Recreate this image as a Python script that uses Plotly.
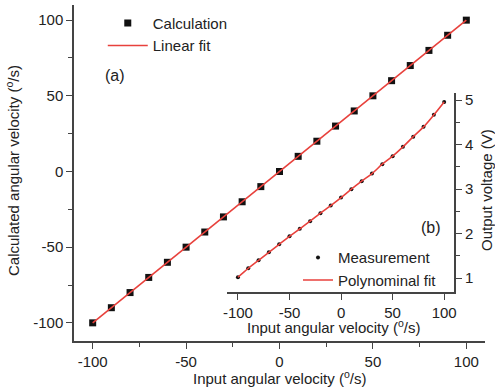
import plotly.graph_objects as go

# Main panel (a)
calc_x = [-100, -90, -80, -70, -60, -50, -40, -30, -20, -10, 0, 10, 20, 30, 40, 50, 60, 70, 80, 90, 100]
calc_y = [-100, -90, -80, -70, -60, -50, -40, -30, -20, -10, 0, 10, 20, 30, 40, 50, 60, 70, 80, 90, 100]

# Inset panel (b)
meas_x = [-100, -90, -80, -70, -60, -50, -40, -30, -20, -10, 0, 10, 20, 30, 40, 50, 60, 70, 80, 90, 100]
meas_v = [1.02, 1.22, 1.40, 1.58, 1.76, 1.94, 2.11, 2.28, 2.46, 2.63, 2.81, 3.00, 3.18, 3.35, 3.56, 3.74,
          3.95, 4.18, 4.40, 4.67, 4.96]

main_ticks = [-100, -50, 0, 50, 100]
main_ticktext = ["-100", "-50", "0", "50", "100"]
inset_xticks = [-100, -50, 0, 50, 100]
inset_xticktext = ["-100", "-50", "0", "50", "100"]
inset_yticks = [1, 2, 3, 4, 5]

RED = "#e8413c"
AX = "#444444"
FONT = "Arial, Liberation Sans, sans-serif"

fig = go.Figure()

fig.add_trace(go.Scatter(x=calc_x, y=calc_y, mode="markers", name="Calculation",
                         marker=dict(symbol="square", size=7, color="#111111"),
                         legend="legend"))
fig.add_trace(go.Scatter(x=calc_x, y=calc_y, mode="lines", name="Linear fit",
                         line=dict(color=RED, width=1.6), legend="legend"))

fig.add_trace(go.Scatter(x=meas_x, y=meas_v, mode="markers", name="Measurement",
                         marker=dict(symbol="circle", size=4, color="#111111"),
                         xaxis="x2", yaxis="y2", legend="legend2"))
fig.add_trace(go.Scatter(x=meas_x, y=meas_v, mode="lines", name="Polynominal fit",
                         line=dict(color=RED, width=1.6, shape="spline"),
                         xaxis="x2", yaxis="y2", legend="legend2"))

axis_common = dict(showgrid=False, zeroline=False, showline=True, linecolor=AX, linewidth=1.5,
                   ticks="outside", ticklen=6, tickwidth=1.3, tickcolor=AX, automargin=False,
                   tickfont=dict(size=15, color="#222222", family=FONT))

fig.update_layout(
    width=495, height=389,
    margin=dict(l=74, r=10, t=5, b=48),
    paper_bgcolor="white", plot_bgcolor="rgba(0,0,0,0)",
    font=dict(family=FONT, size=15, color="#222222"),
    xaxis=dict(**axis_common, range=[-110, 110], tickvals=main_ticks, ticktext=main_ticktext,
               minor=dict(tickvals=[-75, -25, 25, 75], ticks="outside", ticklen=4, tickcolor=AX),
               domain=[0, 1]),
    yaxis=dict(**axis_common, range=[-112, 110], tickvals=main_ticks, ticktext=main_ticktext,
               minor=dict(tickvals=[-75, -25, 25, 75], ticks="outside", ticklen=4, tickcolor=AX),
               domain=[0, 1]),
    xaxis2=dict(**axis_common, range=[-110.7, 109.7], tickvals=inset_xticks, ticktext=inset_xticktext,
                anchor="y2", domain=[0.372, 0.925]),
    yaxis2=dict(**axis_common, range=[0.69, 5.16], tickvals=inset_yticks, anchor="x2", side="right",
                domain=[0.146, 0.738],
                minor=dict(tickvals=[1.5, 2.5, 3.5, 4.5], ticks="outside", ticklen=4, tickcolor=AX)),
    legend=dict(x=0.07, y=0.995, xanchor="left", yanchor="top", bgcolor="rgba(0,0,0,0)",
                font=dict(size=15), tracegroupgap=0, itemwidth=40),
    legend2=dict(x=0.545, y=0.297, xanchor="left", yanchor="top", bgcolor="rgba(0,0,0,0)",
                 font=dict(size=15), tracegroupgap=0, itemwidth=30),
    showlegend=True,
)

# Axis titles as annotations (pixel-precise placement)
def px_x(p):
    return (p - 74) / 411.0

def px_y(p):
    return (341 - p) / 336.0

fig.add_annotation(text="Input angular velocity (<sup>o</sup>/s)", x=px_x(279), y=px_y(377),
                   xref="paper", yref="paper", showarrow=False, xanchor="center", yanchor="middle",
                   font=dict(size=15))
fig.add_annotation(text="Calculated angular velocity (<sup>o</sup>/s)", x=px_x(12), y=px_y(171),
                   xref="paper", yref="paper", showarrow=False, xanchor="center", yanchor="middle",
                   textangle=-90, font=dict(size=15))
fig.add_annotation(text="Input angular velocity (<sup>o</sup>/s)", x=px_x(333), y=px_y(326),
                   xref="paper", yref="paper", showarrow=False, xanchor="center", yanchor="middle",
                   font=dict(size=15))
fig.add_annotation(text="Output voltage (V)", x=px_x(486), y=px_y(190),
                   xref="paper", yref="paper", showarrow=False, xanchor="center", yanchor="middle",
                   textangle=-90, font=dict(size=15))

fig.add_annotation(text="(a)", x=px_x(103), y=px_y(75), xref="paper", yref="paper", showarrow=False,
                   xanchor="left", yanchor="middle", font=dict(size=16))
fig.add_annotation(text="(b)", x=px_x(443), y=px_y(227), xref="paper", yref="paper", showarrow=False,
                   xanchor="right", yanchor="middle", font=dict(size=16))

fig.write_html("out.html", config={"displayModeBar": False},
               post_script="document.body.style.margin='0';document.body.style.overflow='hidden';")
